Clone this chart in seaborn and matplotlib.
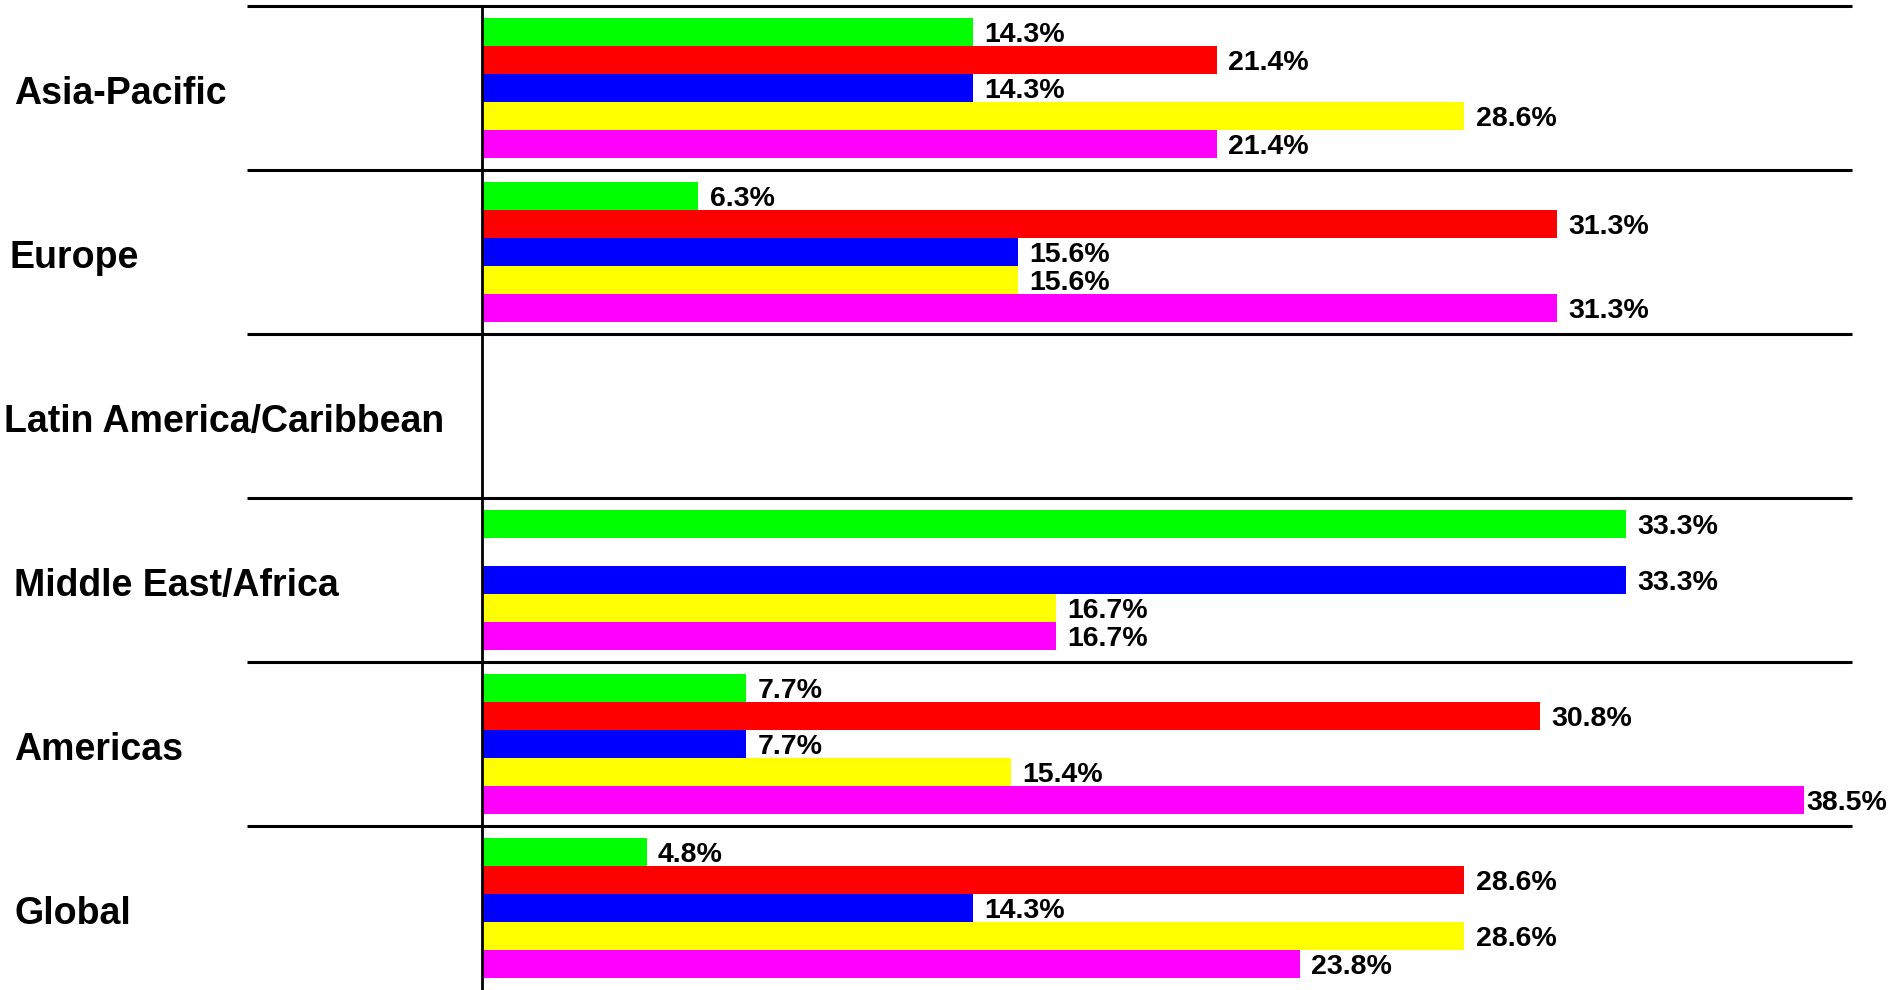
import matplotlib
matplotlib.use("Agg")
import matplotlib.pyplot as plt
import matplotlib.transforms as mtransforms
import seaborn as sns
import pandas as pd
import numpy as np

categories = ["Asia-Pacific", "Europe", "Latin America/Caribbean",
              "Middle East/Africa", "Americas", "Global"]
series = ["Series 1", "Series 2", "Series 3", "Series 4", "Series 5"]
colors = ["#00FF00", "#FF0000", "#0000FF", "#FFFF00", "#FF00FF"]

s1 = [14.3, 6.3, np.nan, 33.3, 7.7, 4.8]
s2 = [21.4, 31.3, np.nan, np.nan, 30.8, 28.6]
s3 = [14.3, 15.6, np.nan, 33.3, 7.7, 14.3]
s4 = [28.6, 15.6, np.nan, 16.7, 15.4, 28.6]
s5 = [21.4, 31.3, np.nan, 16.7, 38.5, 23.8]

rows = []
for name, vals in zip(series, [s1, s2, s3, s4, s5]):
    for c, v in zip(categories, vals):
        rows.append({"region": c, "series": name, "value": v})
df = pd.DataFrame(rows).dropna()

sns.set_theme(style="white")
plt.rcParams["font.family"] = ["Liberation Sans", "DejaVu Sans"]
plt.rcParams["font.weight"] = "bold"

W, H = 1889, 990
fig = plt.figure(figsize=(W / 100, H / 100), dpi=100)
ax_left = 482 / W
ax_w = (1856 - 482) / W
ax_top = 1 - 6 / H
ax = fig.add_axes([ax_left, 0.0, ax_w, ax_top])

sns.barplot(data=df, y="region", x="value", hue="series", order=categories,
            hue_order=series, palette=colors, orient="h", width=0.85,
            saturation=1, errorbar=None, ax=ax, legend=False, linewidth=0)

ax.set_xlim(0, 40)
ax.set_ylim(len(categories) - 0.5, -0.5)
ax.set_xlabel("")
ax.set_ylabel("")
ax.set_xticks([])
ax.set_yticks([])
for side in ["top", "right", "bottom"]:
    ax.spines[side].set_visible(False)
ax.spines["left"].set_color("black")
ax.spines["left"].set_linewidth(2)

labels = []
for cont in ax.containers:
    labels += ax.bar_label(cont, fmt="%.1f%%", padding=8, fontsize=20.5,
                           fontweight="bold", color="black")
for t in labels:
    t.set_va("center_baseline")

# category separator lines, extending into the label area
ext = (482 - 247) / (1856 - 482)
bounds = np.arange(len(categories)) - 0.5
ax.hlines(bounds, -ext, 1 - 4 / (1856 - 482), transform=ax.get_yaxis_transform(),
          colors="black", linewidth=2.2, clip_on=False)

# category labels
label_left = {"Europe": 9, "Latin America/Caribbean": 4}
blend = mtransforms.blended_transform_factory(fig.transFigure, ax.transData)
shift = mtransforms.ScaledTranslation(0, -6 / 100, fig.dpi_scale_trans)
for i, c in enumerate(categories):
    ax.text(label_left.get(c, 14) / W, i, c, transform=blend + shift,
            ha="left", va="center", fontsize=27, fontweight="bold", color="black")

# keep value labels inside the figure
fig.canvas.draw()
renderer = fig.canvas.get_renderer()
for t in labels:
    bb = t.get_window_extent(renderer)
    if bb.x1 > W - 2:
        dx = (bb.x1 - (W - 2)) / fig.dpi * 72
        x0, y0 = t.xyann
        t.xyann = (x0 - dx, y0)

fig.savefig("out.png", dpi=100, facecolor="white")
